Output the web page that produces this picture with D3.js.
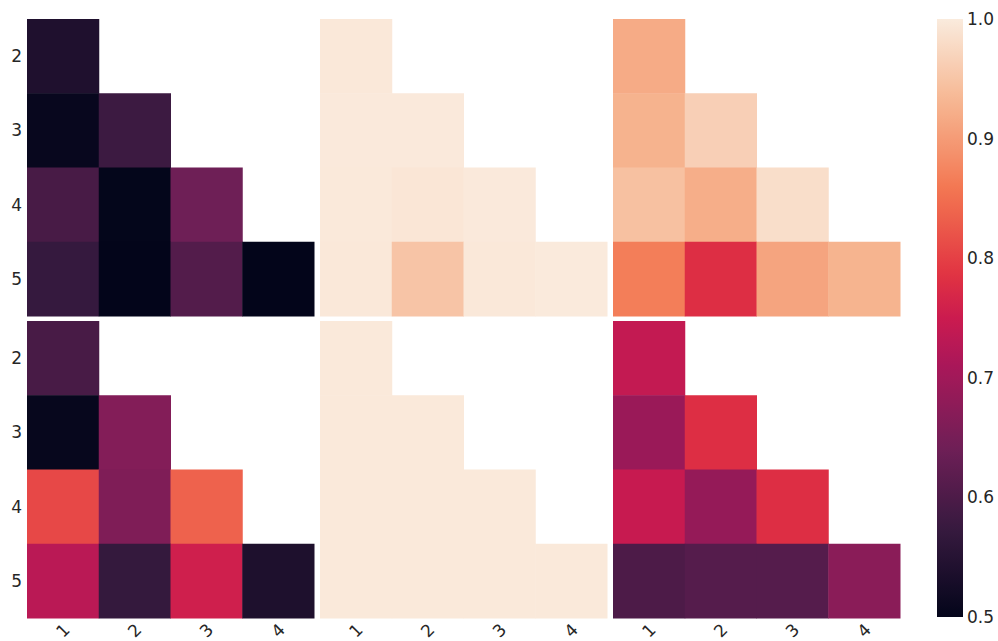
<!DOCTYPE html>
<html>
<head>
<meta charset="UTF-8" />
<script src="https://d3js.org/d3.v7.min.js"></script>
<style>
  body { margin: 0; padding: 0; background: #fff; }
  svg { display: block; }
  text { font-family: "DejaVu Sans", sans-serif; fill: #262626; }
</style>
</head>
<body>
<svg width="998" height="641"></svg>
<script>
// tick labels
const rowTicks = ["2", "3", "4", "5"];
const colTicks = ["1", "2", "3", "4"];
const cbTicks = [0.5, 0.6, 0.7, 0.8, 0.9, 1.0];

// lower-triangle values, one row per row tick
const topLeft = [
  [0.540],
  [0.507, 0.580],
  [0.594, 0.502, 0.640],
  [0.572, 0.500, 0.608, 0.500]
];
const topMid = [
  [0.996],
  [0.998, 0.998],
  [0.997, 0.994, 0.998],
  [0.996, 0.950, 0.996, 0.999]
];
const topRight = [
  [0.918],
  [0.927, 0.964],
  [0.945, 0.922, 0.983],
  [0.866, 0.779, 0.910, 0.929]
];
const botLeft = [
  [0.595],
  [0.506, 0.665],
  [0.808, 0.660, 0.836],
  [0.730, 0.570, 0.756, 0.538]
];
const botMid = [
  [0.997],
  [0.997, 0.997],
  [0.997, 0.997, 0.997],
  [0.997, 0.997, 0.997, 0.997]
];
const botRight = [
  [0.740],
  [0.692, 0.779],
  [0.745, 0.686, 0.779],
  [0.600, 0.610, 0.610, 0.673]
];

const panels = [
  { data: topLeft, row: 0, col: 0 },
  { data: topMid, row: 0, col: 1 },
  { data: topRight, row: 0, col: 2 },
  { data: botLeft, row: 1, col: 0 },
  { data: botMid, row: 1, col: 1 },
  { data: botRight, row: 1, col: 2 }
];

// rocket colormap, approximated from sampled points
const rocketPos = [0, 1 / 7, 2 / 7, 3 / 7, 0.5, 4 / 7, 5 / 7, 6 / 7, 1];
const rocketStops = ["#03051a", "#35193e", "#701f57", "#ad1759", "#cb1b4f", "#e13342", "#f37651", "#f6b48f", "#faebdd"];
const rocket = d3.scaleLinear()
  .domain(rocketPos)
  .range(rocketStops)
  .interpolate(d3.interpolateRgb)
  .clamp(true);
const vmin = 0.5, vmax = 1.0;
const norm = d3.scaleLinear().domain([vmin, vmax]).range([0, 1]).clamp(true);
const color = v => rocket(norm(v));

const svg = d3.select("svg");

const panelW = 287, panelH = 297;
const panelX = [27, 320, 613];
const panelY = [19, 321];

panels.forEach(p => {
  const x = d3.scaleBand().domain(colTicks).range([panelX[p.col], panelX[p.col] + panelW]);
  const y = d3.scaleBand().domain(rowTicks).range([panelY[p.row], panelY[p.row] + panelH]);

  const cells = [];
  p.data.forEach((vals, i) => {
    vals.forEach((v, j) => cells.push({ r: rowTicks[i], c: colTicks[j], v }));
  });

  svg.append("g")
    .selectAll("rect")
    .data(cells)
    .join("rect")
    .attr("x", d => x(d.c))
    .attr("y", d => y(d.r))
    .attr("width", x.bandwidth() + 0.5)
    .attr("height", y.bandwidth() + 0.5)
    .attr("fill", d => color(d.v));

  // y labels only on the left column
  if (p.col === 0) {
    svg.append("g")
      .selectAll("text")
      .data(rowTicks)
      .join("text")
      .attr("x", panelX[0] - 5)
      .attr("y", d => y(d) + y.bandwidth() / 2)
      .attr("text-anchor", "end")
      .attr("dominant-baseline", "central")
      .style("font-size", "17px")
      .text(d => d);
  }

  // x labels only on the bottom row
  if (p.row === 1) {
    const ty = panelY[1] + panelH + 12.5;
    svg.append("g")
      .selectAll("text")
      .data(colTicks)
      .join("text")
      .attr("transform", d => `translate(${x(d) + x.bandwidth() / 2},${ty}) rotate(-45)`)
      .attr("text-anchor", "middle")
      .attr("dominant-baseline", "central")
      .style("font-size", "17px")
      .text(d => d);
  }
});

// colorbar
const cbX = 937, cbW = 26, cbTop = 19, cbBot = 617;
const cbScale = d3.scaleLinear().domain([vmin, vmax]).range([cbBot, cbTop]);

const grad = svg.append("defs").append("linearGradient")
  .attr("id", "cbgrad")
  .attr("x1", 0).attr("y1", 1).attr("x2", 0).attr("y2", 0);
d3.range(0, 1.0001, 0.02).forEach(t => {
  grad.append("stop").attr("offset", t).attr("stop-color", rocket(t));
});

svg.append("rect")
  .attr("x", cbX)
  .attr("y", cbTop)
  .attr("width", cbW)
  .attr("height", cbBot - cbTop)
  .attr("fill", "url(#cbgrad)");

svg.append("g")
  .selectAll("text")
  .data(cbTicks)
  .join("text")
  .attr("x", cbX + cbW + 4)
  .attr("y", d => cbScale(d))
  .attr("dominant-baseline", "central")
  .style("font-size", "17px")
  .text(d => d.toFixed(1));
</script>
</body>
</html>
